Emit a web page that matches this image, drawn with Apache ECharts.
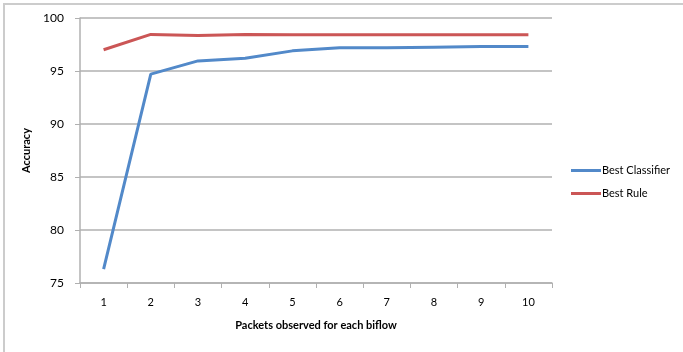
<!DOCTYPE html>
<html>
<head>
<meta charset="utf-8">
<script src="https://cdn.jsdelivr.net/npm/echarts@6/dist/echarts.min.js"></script>
<style>
  html, body { margin: 0; padding: 0; background: #fff; }
  #frame { position: absolute; left: 3px; top: 3px; width: 690px; height: 360px; border-left: 2px solid #cccccc; border-top: 2px solid #cccccc; box-sizing: border-box; }
  #chart { width: 683px; height: 352px; position: absolute; left: 0; top: 0; }
</style>
</head>
<body>
<div id="frame"></div>
<div id="chart"></div>
<script>
// Packets observed per biflow (x-axis categories)
const packets = ['1', '2', '3', '4', '5', '6', '7', '8', '9', '10'];
// Accuracy (%) per number of packets
const bestClassifier = [76.3, 94.7, 95.95, 96.2, 96.9, 97.2, 97.2, 97.25, 97.3, 97.3];
const bestRule = [97.0, 98.45, 98.35, 98.45, 98.42, 98.42, 98.42, 98.42, 98.42, 98.42];
const yTicks = [75, 80, 85, 90, 95, 100];

const font = 'Lato, "Open Sans", sans-serif';
const chart = echarts.init(document.getElementById('chart'), null, { renderer: 'canvas' });
chart.setOption({
  animation: false,
  textStyle: { fontFamily: font },
  grid: { left: 80, right: 131, top: 18, bottom: 69 },
  legend: {
    orient: 'vertical',
    left: 566, top: 160,
    itemWidth: 30, itemHeight: 3, itemGap: 12,
    icon: 'rect',
    textStyle: { fontFamily: font, fontSize: 11, color: '#000', padding: [0, 0, 0, -4] },
    data: ['Best Classifier', 'Best Rule']
  },
  xAxis: {
    type: 'category',
    data: packets,
    boundaryGap: true,
    name: 'Packets observed for each biflow',
    nameLocation: 'middle',
    nameGap: 37,
    nameTextStyle: { fontFamily: font, fontSize: 11, fontWeight: 'bold', color: '#000' },
    axisLine: { lineStyle: { color: '#b0b0b0', width: 1.5 } },
    axisTick: { show: true, length: 5, lineStyle: { color: '#b0b0b0' } },
    axisLabel: { fontFamily: font, fontSize: 11, color: '#000', margin: 14 },
    splitLine: { show: false }
  },
  yAxis: {
    type: 'value',
    min: yTicks[0], max: yTicks[yTicks.length - 1], interval: 5,
    name: 'Accuracy',
    nameLocation: 'middle',
    nameGap: 46,
    nameRotate: 90,
    nameTextStyle: { fontFamily: font, fontSize: 11, fontWeight: 'bold', color: '#000' },
    axisLine: { show: true, lineStyle: { color: '#b0b0b0', width: 1.5 } },
    axisTick: { show: true, length: 5, lineStyle: { color: '#b0b0b0' } },
    axisLabel: { fontFamily: font, fontSize: 12, color: '#000', margin: 16 },
    splitLine: { show: true, lineStyle: { color: '#b0b0b0', width: 1.5 } }
  },
  series: [
    {
      name: 'Best Classifier', type: 'line', data: bestClassifier,
      symbol: 'none', lineStyle: { color: '#5289C9', width: 3 }, itemStyle: { color: '#5289C9' }
    },
    {
      name: 'Best Rule', type: 'line', data: bestRule,
      symbol: 'none', lineStyle: { color: '#CB5656', width: 3 }, itemStyle: { color: '#CB5656' }
    }
  ]
});
</script>
</body>
</html>
